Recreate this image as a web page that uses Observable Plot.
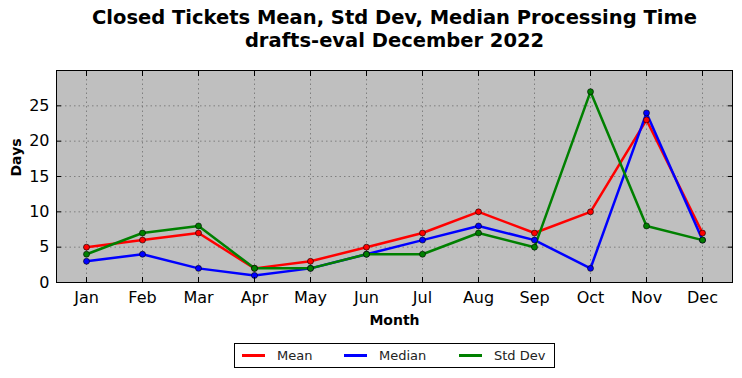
<!DOCTYPE html>
<html>
<head>
<meta charset="utf-8">
<script src="https://cdn.jsdelivr.net/npm/d3@7"></script>
<script src="https://cdn.jsdelivr.net/npm/@observablehq/plot@0.6"></script>
<style>
  body { margin: 0; background: #fff; font-family: "DejaVu Sans", sans-serif; }
  #wrap { width: 742px; height: 378px; position: relative; }
  #title { height: 60px; box-sizing: border-box; padding-top: 7px; padding-left: 47px; text-align: center; font-weight: bold; font-size: 19.5px; line-height: 22.5px; color: #000; white-space: nowrap; }
  #legend { position: absolute; left: 234px; top: 343px; width: 321px; height: 25px; box-sizing: border-box; border: 1px solid #000; font-size: 13px; color: #222; }
  .item { position: absolute; top: 0; height: 23px; display: flex; align-items: center; }
  .sw { width: 23px; height: 3px; margin-right: 12px; }
</style>
</head>
<body>
<div id="wrap">
  <div id="title">Closed Tickets Mean, Std Dev, Median Processing Time<br>drafts-eval December 2022</div>
  <div id="chart"></div>
  <div id="legend"></div>
</div>
<script>
const months = ["Jan","Feb","Mar","Apr","May","Jun","Jul","Aug","Sep","Oct","Nov","Dec"];
const meanValues = [5, 6, 7, 2, 3, 5, 7, 10, 7, 10, 23, 7];
const medianValues = [3, 4, 2, 1, 2, 4, 6, 8, 6, 2, 24, 6];
const stdDevValues = [4, 7, 8, 2, 2, 4, 4, 7, 5, 27, 8, 6];
const seriesNames = ["Mean", "Median", "Std Dev"];
const seriesColors = ["#ff0000", "#0000ff", "#008000"];
const yTicks = [0, 5, 10, 15, 20, 25];

const seriesValues = [meanValues, medianValues, stdDevValues];
const rows = [];
seriesNames.forEach((name, i) => {
  months.forEach((m, j) => rows.push({series: name, month: m, value: seriesValues[i][j]}));
});

const plot = Plot.plot({
  width: 742,
  height: 275,
  marginLeft: 56,
  marginRight: 10,
  marginTop: 10,
  marginBottom: 53,
  style: {fontFamily: "DejaVu Sans, sans-serif", fontSize: "16px", color: "#000", background: "transparent"},
  x: {type: "point", domain: months, padding: 0.5, label: null},
  y: {domain: [0, 30], label: null},
  color: {domain: seriesNames, range: seriesColors},
  marks: [
    Plot.frame({fill: "#bfbfbf"}),
    Plot.gridX({stroke: "#555", strokeOpacity: 0.6, strokeDasharray: "1.5,3"}),
    Plot.gridY({ticks: yTicks, stroke: "#555", strokeOpacity: 0.6, strokeDasharray: "1.5,3"}),
    Plot.line(rows, {x: "month", y: "value", z: "series", stroke: "series", strokeWidth: 2.5}),
    Plot.dot(rows, {x: "month", y: "value", fill: "series", stroke: "#000", strokeWidth: 0.6, r: 3}),
    Plot.frame({stroke: "#000", strokeWidth: 1}),
    Plot.axisX({tickSize: -5, tickPadding: 14, fontSize: 16, label: null}),
    Plot.axisX({anchor: "top", tickSize: -5, tickFormat: () => "", label: null}),
    Plot.axisY({ticks: yTicks, tickSize: -5, tickPadding: 12, fontSize: 16, label: null}),
    Plot.axisY({anchor: "right", ticks: yTicks, tickSize: -5, tickFormat: () => "", label: null}),
    Plot.text(["Month"], {frameAnchor: "bottom", dy: 42, fontWeight: "bold", fontSize: 14}),
    Plot.text(["Days"], {frameAnchor: "left", dx: -40, rotate: -90, fontWeight: "bold", fontSize: 14})
  ]
});
document.getElementById("chart").appendChild(plot);

const legend = document.getElementById("legend");
const lefts = [7, 109, 224];
seriesNames.forEach((name, i) => {
  const it = document.createElement("div");
  it.className = "item";
  it.style.left = lefts[i] + "px";
  const sw = document.createElement("span");
  sw.className = "sw";
  sw.style.background = seriesColors[i];
  it.appendChild(sw);
  const t = document.createElement("span");
  t.textContent = name;
  it.appendChild(t);
  legend.appendChild(it);
});
</script>
</body>
</html>
